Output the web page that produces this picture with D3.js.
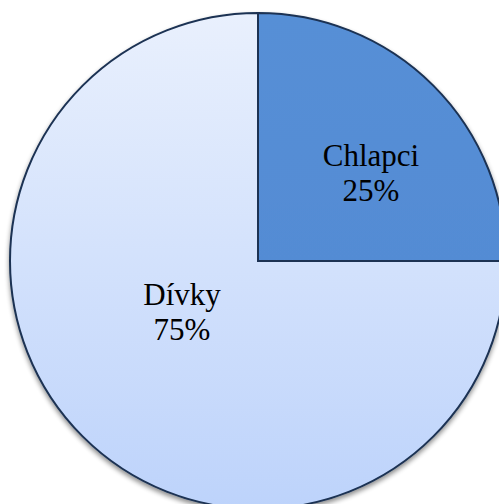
<!DOCTYPE html>
<html><head><meta charset="utf-8">
<script src="https://cdn.jsdelivr.net/npm/d3@7"></script>
<style>html,body{margin:0;padding:0;background:#fff;overflow:hidden}</style>
</head><body>
<svg id="chart" width="499" height="504"></svg>
<script>
const categories = ["Chlapci", "Dívky"];
const values = [25, 75];
const percentLabels = ["25%", "75%"];

const W = 499, H = 504;
const cx = 258, cy = 261, R = 248;
const svg = d3.select("#chart");
const defs = svg.append("defs");

const gradLight = defs.append("linearGradient").attr("id","gLight")
  .attr("gradientUnits","userSpaceOnUse").attr("x1",0).attr("y1",-R).attr("x2",0).attr("y2",R);
gradLight.append("stop").attr("offset","0%").attr("stop-color","#e9f0fd");
gradLight.append("stop").attr("offset","100%").attr("stop-color","#bdd3fb");

const gradDark = defs.append("linearGradient").attr("id","gDark")
  .attr("gradientUnits","userSpaceOnUse").attr("x1",0).attr("y1",-R).attr("x2",0).attr("y2",R);
gradDark.append("stop").attr("offset","0%").attr("stop-color","#578fd6");
gradDark.append("stop").attr("offset","100%").attr("stop-color","#4f88d2");

const f = defs.append("filter").attr("id","shadow").attr("x","-10%").attr("y","-10%").attr("width","120%").attr("height","120%");
f.append("feGaussianBlur").attr("in","SourceAlpha").attr("stdDeviation",2.5).attr("result","b");
f.append("feOffset").attr("in","b").attr("dx",0).attr("dy",3).attr("result","o");
f.append("feComponentTransfer").attr("in","o").attr("result","o2")
  .append("feFuncA").attr("type","linear").attr("slope",0.45);
const fm = f.append("feMerge");
fm.append("feMergeNode").attr("in","o2");
fm.append("feMergeNode").attr("in","SourceGraphic");

const fills = ["url(#gDark)", "url(#gLight)"];
const pie = d3.pie().sort(null).value(d => d)(values);
const arc = d3.arc().innerRadius(0).outerRadius(R);

const g = svg.append("g").attr("transform",`translate(${cx},${cy})`);
g.append("g").attr("filter","url(#shadow)")
  .selectAll("path").data(pie).join("path")
  .attr("d", arc).attr("fill",(d,i)=>fills[i])
  .attr("stroke","#1b3253").attr("stroke-width",2).attr("stroke-linejoin","miter");

// label placement relative to the pie centre
const labelOffset = [[113,-77.5],[-76,61.5]];
pie.forEach((d,i) => {
  const [x,y] = labelOffset[i];
  const t = g.append("text").attr("text-anchor","middle")
    .style("font-family", '"Liberation Serif"')
    .style("font-size","31px").attr("fill","#000");
  t.append("tspan").attr("x",x).attr("y",y-17.5).text(categories[i]);
  t.append("tspan").attr("x",x).attr("y",y+17.5).text(percentLabels[i]);
});
</script>
</body></html>
